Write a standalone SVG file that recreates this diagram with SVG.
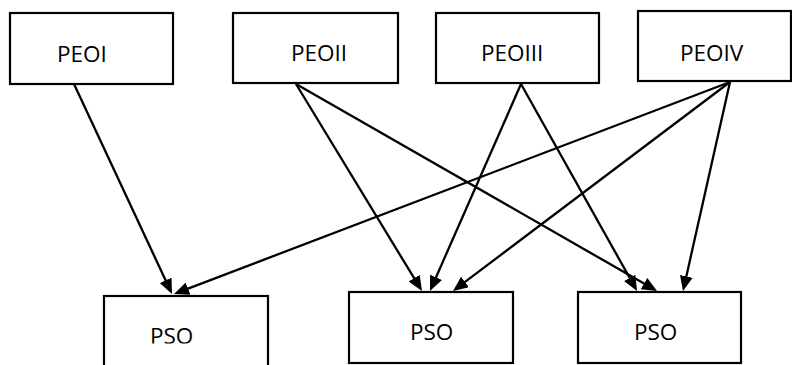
<svg xmlns="http://www.w3.org/2000/svg" width="792" height="365" viewBox="0 0 792 365">
  <style>
    .box { fill: #ffffff; stroke: #000000; stroke-width: 2.2; }
    .lbl { font-family: "Open Sans", "Liberation Sans", sans-serif; font-size: 22.5px; fill: #000000; }
    .edge { stroke: #000000; stroke-width: 2.3; fill: none; marker-end: url(#arrow); }
  </style>
  <defs>
    <marker id="arrow" markerUnits="userSpaceOnUse" markerWidth="15" markerHeight="13" refX="7" refY="6.5" orient="auto">
      <path d="M0,0 L15,6.5 L0,13 z" fill="#000000"/>
    </marker>
    <clipPath id="clipPso1"><rect x="104" y="296" width="164" height="47.5"/></clipPath>
    <clipPath id="clipPso2"><rect x="349" y="292" width="164" height="49.5"/></clipPath>
    <clipPath id="clipPso3"><rect x="578" y="292" width="163" height="49.5"/></clipPath>
  </defs>
  <rect x="0" y="0" width="792" height="365" fill="#ffffff"/>

  <g id="peo1">
    <rect class="box" x="10" y="13" width="163" height="71"/>
    <text class="lbl" x="57" y="62">PEOI</text>
  </g>
  <g id="peo2">
    <rect class="box" x="233" y="13" width="165" height="70"/>
    <text class="lbl" x="291" y="61">PEOII</text>
  </g>
  <g id="peo3">
    <rect class="box" x="436" y="13" width="163" height="70"/>
    <text class="lbl" x="481" y="61">PEOIII</text>
  </g>
  <g id="peo4">
    <rect class="box" x="638" y="11" width="153" height="70"/>
    <text class="lbl" x="680" y="60.5">PEOIV</text>
  </g>

  <g id="pso1">
    <rect class="box" x="104" y="296" width="164" height="80"/>
    <text class="lbl" x="150" y="344" clip-path="url(#clipPso1)">PSO</text>
  </g>
  <g id="pso2">
    <rect class="box" x="349" y="292" width="164" height="71"/>
    <text class="lbl" x="410" y="340" clip-path="url(#clipPso2)">PSO</text>
  </g>
  <g id="pso3">
    <rect class="box" x="578" y="292" width="163" height="71"/>
    <text class="lbl" x="634" y="340" clip-path="url(#clipPso3)">PSO</text>
  </g>

  <g id="connectors">
    <line class="edge" x1="74" y1="84" x2="168.6" y2="286.7"/>
    <line class="edge" x1="730" y1="82" x2="181.5" y2="291.1"/>
    <line class="edge" x1="296" y1="84" x2="417.8" y2="284.2"/>
    <line class="edge" x1="521" y1="84" x2="433.2" y2="283.7"/>
    <line class="edge" x1="730" y1="82" x2="459.4" y2="286.2"/>
    <line class="edge" x1="296" y1="84" x2="650.1" y2="287.0"/>
    <line class="edge" x1="521" y1="84" x2="633.1" y2="284.0"/>
    <line class="edge" x1="730" y1="82" x2="684.8" y2="283.2"/>
  </g>
</svg>
